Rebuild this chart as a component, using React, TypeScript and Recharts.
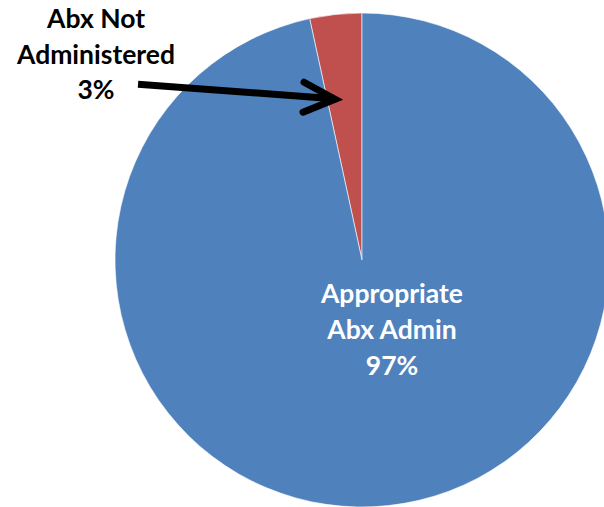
import { PieChart, Pie, Cell } from "recharts";

const categories = ["Abx Not Administered", "Appropriate Abx Admin"];
const shares = [3.4, 96.6];
const shareLabels = ["3%", "97%"];
const colors = ["#C0504D", "#4F81BD"];

const data = categories.map((name, i) => ({ name, value: shares[i], pct: shareLabels[i] }));

const RAD = Math.PI / 180;
const font = "Lato, 'Open Sans', sans-serif";

const renderLabel = (props: any) => {
  const { cx, cy, midAngle, outerRadius, index } = props;
  if (index === 1) {
    const x = cx + 30;
    const y = cy + 70;
    return (
      <text x={x} y={y} fill="#fff" textAnchor="middle" fontFamily={font} fontWeight={700} fontSize={26.5}>
        <tspan x={x} dy={-27}>Appropriate</tspan>
        <tspan x={x} dy={36}>Abx Admin</tspan>
        <tspan x={x} dy={36}>{shareLabels[1]}</tspan>
      </text>
    );
  }
  // arrow tip sits inside the red slice
  const r = outerRadius * 0.66;
  const a = (midAngle + 3.4) * RAD;
  const tx = cx + r * Math.cos(a);
  const ty = cy - r * Math.sin(a);
  const sx = tx - 197;
  const sy = ty - 15;
  const lx = tx - 239;
  return (
    <g>
      <text x={lx} y={ty - 71} fill="#000" textAnchor="middle" fontFamily={font} fontWeight={700} fontSize={26.5}>
        <tspan x={lx} dy={0}>Abx Not</tspan>
        <tspan x={lx} dy={35.5}>Administered</tspan>
        <tspan x={lx} dy={35.5}>{shareLabels[0]}</tspan>
      </text>
      <line x1={sx} y1={sy} x2={tx - 8} y2={ty - 1} stroke="#000" strokeWidth={7} />
      <polyline
        points={`${tx - 31},${ty - 17} ${tx},${ty} ${tx - 32},${ty + 13}`}
        fill="none"
        stroke="#000"
        strokeWidth={7}
        strokeLinecap="round"
        strokeLinejoin="miter"
      />
    </g>
  );
};

export default function App() {
  return (
    <div style={{ position: "absolute", left: 0, top: 0, width: 604, height: 507, background: "#fff" }}>
      <PieChart width={604} height={507} margin={{ top: 0, right: 0, bottom: 0, left: 0 }}>
        <Pie
          data={data}
          dataKey="value"
          nameKey="name"
          cx={362}
          cy={260}
          outerRadius={247}
          startAngle={90}
          endAngle={450}
          stroke="#ffffff"
          strokeWidth={0.6}
          label={renderLabel}
          labelLine={false}
          isAnimationActive={false}
        >
          {data.map((d, i) => (
            <Cell key={d.name} fill={colors[i]} />
          ))}
        </Pie>
      </PieChart>
    </div>
  );
}
